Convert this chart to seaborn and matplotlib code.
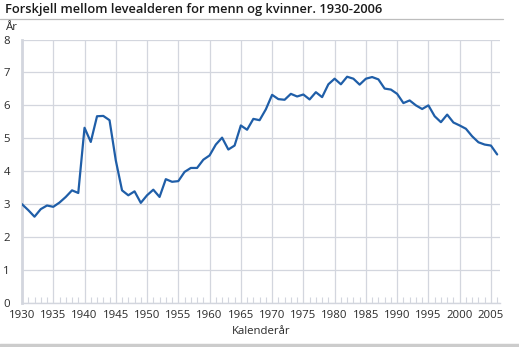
import matplotlib
matplotlib.use("Agg")
import matplotlib.pyplot as plt
import seaborn as sns
import pandas as pd
from matplotlib.lines import Line2D

years = list(range(1930, 2007))
difference = [
    3.00, 2.82, 2.62, 2.85, 2.96, 2.92, 3.05, 3.22, 3.42, 3.34,
    5.32, 4.89, 5.67, 5.68, 5.55, 4.33, 3.42, 3.27, 3.39, 3.04,
    3.27, 3.44, 3.22, 3.76, 3.68, 3.70, 3.98, 4.10, 4.10, 4.35,
    4.48, 4.81, 5.02, 4.66, 4.78, 5.39, 5.26, 5.59, 5.55, 5.88,
    6.32, 6.19, 6.17, 6.35, 6.27, 6.33, 6.18, 6.40, 6.25, 6.64,
    6.81, 6.64, 6.87, 6.81, 6.63, 6.81, 6.86, 6.79, 6.51, 6.48,
    6.35, 6.07, 6.15, 6.00, 5.89, 6.00, 5.67, 5.49, 5.72, 5.48,
    5.39, 5.29, 5.06, 4.88, 4.81, 4.78, 4.51,
]
xticks = list(range(1930, 2006, 5))
yticks = list(range(0, 9))
title = "Forskjell mellom levealderen for menn og kvinner. 1930-2006"
ylabel = "År"
xlabel = "Kalenderår"

df = pd.DataFrame({"year": years, "diff": difference})

sns.set_style("white")
plt.rcParams["font.family"] = ["Open Sans", "DejaVu Sans"]

W, H = 519, 347
fig = plt.figure(figsize=(W / 100, H / 100), dpi=100)
ax = fig.add_axes([22 / W, 1 - 303 / H, 478 / W, (303 - 39.5) / H])

grid_c = "#d3d6de"
sns.lineplot(data=df, x="year", y="diff", ax=ax, color="#1f5ea8", linewidth=1.6, zorder=3)

ax.set_xlim(1930, 2006.45)
ax.set_ylim(0, 8)
ax.set_xticks(xticks)
ax.set_yticks(yticks)
ax.set_xticks(years, minor=True)
ax.grid(True, which="major", color=grid_c, linewidth=0.9)
ax.set_xlabel("")
ax.set_ylabel("")

for s in ["top", "right"]:
    ax.spines[s].set_visible(False)
ax.spines["left"].set_color(grid_c)
ax.spines["left"].set_linewidth(2.0)
ax.spines["bottom"].set_color(grid_c)
ax.spines["bottom"].set_linewidth(1.0)

ax.tick_params(axis="x", which="minor", direction="in", length=4, width=0.8, color=grid_c, bottom=True)
ax.tick_params(axis="x", which="major", length=0, pad=5, labelsize=8.2, labelcolor="#2a2a2a")
ax.tick_params(axis="y", which="major", length=0, labelsize=8.2, labelcolor="#2a2a2a")
for lbl in ax.get_yticklabels():
    lbl.set_horizontalalignment("center")
ax.tick_params(axis="y", pad=11)

fig.text(5 / W, 1 - 10 / H, title, fontsize=9.3, fontweight="semibold", color="#1a1a1a",
         ha="left", va="center")
fig.add_artist(Line2D([0, 503 / W], [1 - 18.5 / H, 1 - 18.5 / H], color="#bdbdbd", linewidth=0.9,
                      transform=fig.transFigure))
fig.text(12 / W, 1 - 27 / H, ylabel, fontsize=8.2, color="#2a2a2a", ha="center", va="center")
fig.text(261 / W, 1 - 331 / H, xlabel, fontsize=8.2, color="#2a2a2a", ha="center", va="center")
fig.add_artist(Line2D([0, 1], [1 - 345 / H, 1 - 345 / H], color="#cccccc", linewidth=2.5,
                      transform=fig.transFigure))

fig.savefig("out.png", dpi=100)
